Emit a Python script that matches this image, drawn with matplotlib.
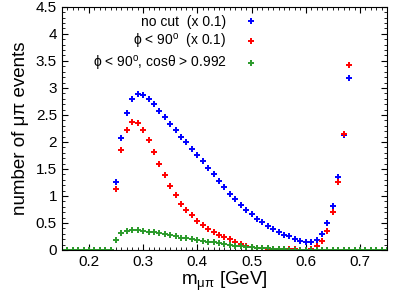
import matplotlib
matplotlib.use('Agg')
import matplotlib.pyplot as plt
import numpy as np
from matplotlib.ticker import MultipleLocator

plt.rcParams['font.family'] = ['Liberation Sans', 'DejaVu Sans']
plt.rcParams['mathtext.fontset'] = 'custom'
plt.rcParams['mathtext.rm'] = 'Liberation Sans'
plt.rcParams['mathtext.it'] = 'Liberation Sans:italic'

# m_mupi bins (GeV)
x_cut = [0.25, 0.26, 0.27, 0.28, 0.29, 0.30, 0.31, 0.32, 0.33, 0.34,
         0.35, 0.36, 0.37, 0.38, 0.39, 0.40, 0.41, 0.42, 0.43, 0.44,
         0.45, 0.46, 0.47, 0.48, 0.49, 0.50, 0.51, 0.52, 0.53, 0.54,
         0.55, 0.56, 0.57, 0.58, 0.59, 0.60, 0.61, 0.62, 0.63, 0.64,
         0.65, 0.66, 0.67, 0.68]

no_cut = [1.26, 2.07, 2.54, 2.79, 2.88, 2.86, 2.79, 2.70, 2.57, 2.46,
          2.33, 2.22, 2.10, 1.99, 1.87, 1.76, 1.64, 1.51, 1.40, 1.28,
          1.16, 1.04, 0.94, 0.83, 0.74, 0.66, 0.57, 0.51, 0.44, 0.39,
          0.34, 0.28, 0.25, 0.21, 0.16, 0.14, 0.14, 0.19, 0.30, 0.49,
          0.82, 1.35, 2.12, 3.19]

phi_cut = [1.13, 1.85, 2.22, 2.36, 2.35, 2.22, 2.03, 1.82, 1.59, 1.38,
           1.19, 1.02, 0.86, 0.74, 0.64, 0.54, 0.46, 0.39, 0.33, 0.28,
           0.24, 0.20, 0.15, 0.11, 0.08, 0.06, 0.04, 0.03, 0.02, 0.02,
           0.01, 0.01, 0.01, 0.01, 0.005, 0.005, 0.01, 0.07, 0.17, 0.36,
           0.70, 1.26, 2.14, 3.42]

x_all = [round(0.15 + 0.01 * i, 2) for i in range(61)]

both_cut = [0.0] * 10 + [
    0.19, 0.31, 0.35, 0.37, 0.37, 0.36, 0.34, 0.33, 0.31, 0.29,
    0.27, 0.25, 0.23, 0.22, 0.20, 0.18, 0.16, 0.15, 0.14, 0.12,
    0.11, 0.09, 0.08, 0.07, 0.06, 0.05, 0.04, 0.03, 0.03, 0.02,
    0.01, 0.01, 0.005] + [0.0] * 18

labels = ['no cut  (x 0.1)',
          'ϕ < 90$^{\\mathrm{o}}$  (x 0.1)',
          'ϕ < 90$^{\\mathrm{o}}$, cosθ > 0.992']
colors = ['#0000ff', '#ff0000', '#2a9a2a']


def main():
    fig = plt.figure(figsize=(3.99, 2.99), dpi=100)
    ax = fig.add_axes([0.155, 0.164, 0.815, 0.813])

    series = [(x_cut, no_cut), (x_cut, phi_cut), (x_all, both_cut)]
    for (xs, ys), c, lab in zip(series, colors, labels):
        ax.plot(xs, ys, linestyle='none', marker='+', markersize=5,
                markeredgewidth=1.4, color=c, label=lab)

    ax.set_xlim(0.15, 0.75)
    ax.set_ylim(0, 4.5)
    ax.xaxis.set_major_locator(MultipleLocator(0.1))
    ax.xaxis.set_minor_locator(MultipleLocator(0.01))
    ax.yaxis.set_minor_locator(MultipleLocator(0.1))
    ax.set_yticks([0, 0.5, 1, 1.5, 2, 2.5, 3, 3.5, 4, 4.5])
    ax.set_yticklabels(['0', '0.5', '1', '1.5', '2', '2.5', '3', '3.5', '4', '4.5'])
    ax.tick_params(which='both', direction='in', top=True, right=True,
                   labelsize=11)
    ax.tick_params(which='major', length=4)
    ax.tick_params(which='minor', length=2)

    ax.set_xlabel('m$_{\\mathrm{μπ}}$ [GeV]', fontsize=13.5, labelpad=1)
    ax.set_ylabel('number of μπ events', fontsize=13.5, labelpad=5)

    ax.legend(loc='upper right', bbox_to_anchor=(0.63, 1.0), frameon=False,
              markerfirst=False, fontsize=10, handletextpad=1.3,
              handlelength=1.0, labelspacing=0.2, borderaxespad=0.2,
              numpoints=1)

    plt.savefig('out.png', dpi=100)
    plt.close()


if __name__ == "__main__":
    main()
